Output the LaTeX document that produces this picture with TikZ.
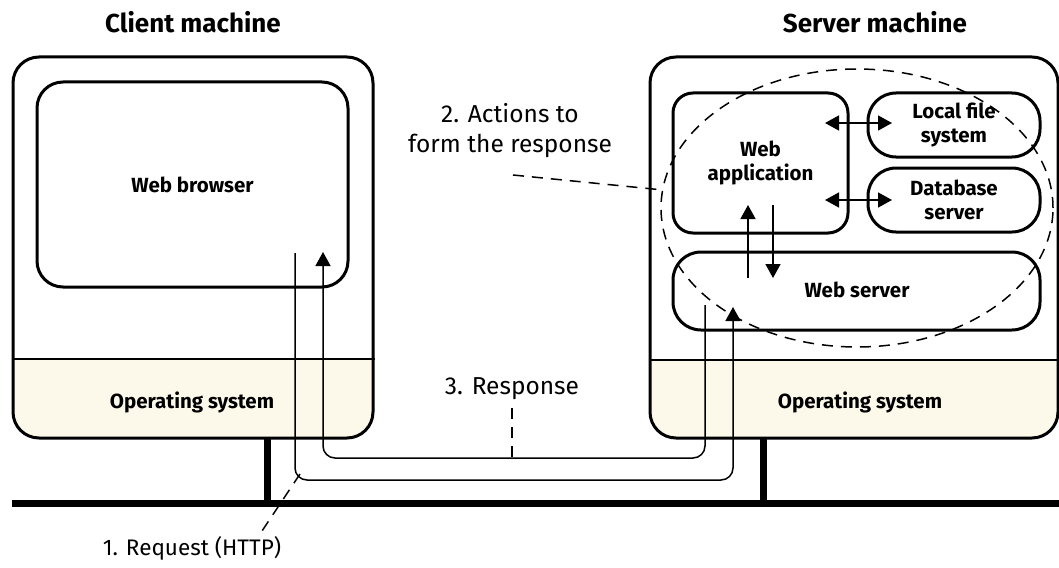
\documentclass[tikz,border=0pt]{standalone}
\usepackage{fontspec}
\setmainfont{Fira Sans}
\usetikzlibrary{arrows.meta,calc}
\definecolor{cream}{RGB}{253,249,234}
\tikzset{
  box/.style={draw, line width=3pt, rounded corners=26pt, inner sep=0pt},
  inbox/.style={draw, line width=3pt, rounded corners=20pt, inner sep=0pt, align=center, font=\bfseries\fontsize{20.5}{24}\selectfont},
  pill/.style={draw, line width=3pt, rounded corners=28pt, inner sep=0pt, align=center, font=\bfseries\fontsize{20.5}{24}\selectfont},
  lbl/.style={font=\bfseries\fontsize{20.5}{24}\selectfont, align=center},
  title/.style={font=\bfseries\fontsize{26}{30}\selectfont},
  plain/.style={font=\fontsize{24.5}{30}\selectfont, align=center},
  flow/.style={line width=1.5pt, rounded corners=12pt},
  tip/.style={-{Triangle[width=15pt,length=14pt]}},
  dtip/.style={{Triangle[width=15pt,length=14pt]}-{Triangle[width=15pt,length=14pt]}},
  leader/.style={line width=1.5pt, dash pattern=on 11pt off 8pt},
  net/.style={line width=7pt},
}
\begin{document}
\begin{tikzpicture}[x=1pt,y=-1pt]
\useasboundingbox (0,0) rectangle (1059,567);
% cream bands
\fill[cream] (13,359) [rounded corners=28pt] -- (13,438) -- (373,438) [sharp corners] -- (373,359) -- cycle;
\fill[cream] (650,360) [rounded corners=28pt] -- (650,438) -- (1058,438) [sharp corners] -- (1058,360) -- cycle;
% network
\coordinate (netL) at (12,503);
\coordinate (netR) at (1059,503);
\draw[net] (netL) -- (netR);
% machines
\node[box, minimum width=360pt, minimum height=381pt] (client) at (193,247.5) {};
\node[box, minimum width=408pt, minimum height=381pt] (server) at (854,247.5) {};
\draw[line width=2.2pt] (client.west |- 0,359) coordinate (cOSl) -- (client.east |- 0,359) coordinate (cOSr);
\draw[line width=2.2pt] (server.west |- 0,360) coordinate (sOSl) -- (server.east |- 0,360) coordinate (sOSr);
\draw[net] (267,438) coordinate (cstub) -- (cstub |- netL);
\draw[net] (763,438) coordinate (sstub) -- (sstub |- netL);
% titles
\node[title] (ctitle) at (193,22) {Client machine};
\node[title] (stitle) at (875,22) {Server machine};
\node[lbl] (cos) at (192,402) {Operating system};
\node[lbl] (sos) at (860,402) {Operating system};
% inner boxes
\node[box, minimum width=311pt, minimum height=205pt] (browser) at (192.5,184.5) {};
\node[lbl] at (browser.center) {Web browser};
\node[inbox, minimum width=175pt, minimum height=140pt] (webapp) at (760.5,163) {Web\\application};
\node[pill, minimum width=172pt, minimum height=64pt] (lfs) at (954,125) {Local file\\system};
\node[pill, minimum width=172pt, minimum height=64pt] (db) at (954,200) {Database\\server};
\node[pill, minimum width=367pt, minimum height=78pt] (websrv) at (856.5,291) {};
\node[lbl] at (857,290) {Web server};
% dashed ellipse
\draw[leader] (857,208) ellipse [x radius=196pt, y radius=139pt];
\coordinate (ellL) at (663,190);
% server internal arrows
\draw[dtip, line width=1.5pt] (825,123) coordinate (a1) -- (892,123) coordinate (a2);
\draw[dtip, line width=1.5pt] (825,200) coordinate (b1) -- (892,200) coordinate (b2);
\draw[tip, line width=1.5pt] (748,278) coordinate (u1) -- (748,205) coordinate (u2);
\draw[tip, line width=1.5pt] (773,205) coordinate (d1) -- (773,278) coordinate (d2);
% request and response
\coordinate (reqS) at (295,253);
\coordinate (reqE) at (733,307);
\coordinate (resS) at (705,305);
\coordinate (resE) at (323,252);
\draw[flow, tip] (reqS) -- (reqS |- 0,480) -- (reqE |- 0,480) -- (reqE);
\draw[flow, tip] (resS) -- (resS |- 0,458) -- (resE |- 0,458) -- (resE);
% labels
\node[plain] (resp) at (512,389) {3. Response};
\node[plain, font=\fontsize{22.5}{27}\selectfont] (req) at (192,548) {1. Request (HTTP)};
\node[plain] (act) at (510,131) {2. Actions to\\form the response};
\draw[leader] (512,408) -- (512,458);
\draw[leader] (300,474) -- (258,537);
\draw[leader] (513,175) -- (ellL);
\end{tikzpicture}
\end{document}
